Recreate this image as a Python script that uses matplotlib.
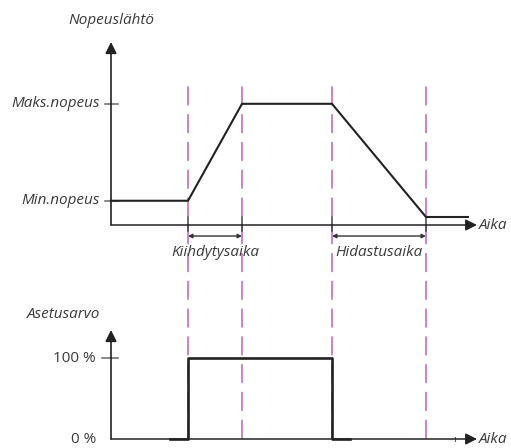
import matplotlib
matplotlib.use("Agg")
import matplotlib.pyplot as plt
from matplotlib.patches import ConnectionPatch

plt.rcParams['font.family'] = ['Open Sans', 'DejaVu Sans']

# event times (arbitrary time units)
t_events = [7.7, 13.1, 22.1, 31.5]
t_end = 36.6

# upper chart: speed output
speed_t = [0, 7.7, 13.1, 22.1, 31.5, 35.7]
speed_v = [20, 20, 100, 100, 6.6, 6.6]
speed_ticks = [20, 100]
speed_labels = ['Min.nopeus', 'Maks.nopeus']

# lower chart: setpoint
set_t = [5.9, 7.7, 7.7, 22.1, 22.1, 23.9]
set_v = [0, 0, 100, 100, 0, 0]
set_ticks = [0, 100]
set_labels = ['0 %', '100 %']

txt = '#3a3a3a'
dash_col = '#b355ad'
fs = 11

fig = plt.figure(figsize=(5.11, 4.48), dpi=100)
W, H = 511, 448
ax1 = fig.add_axes([111 / W, (H - 225) / H, 366 / W, 183 / H])
ax2 = fig.add_axes([111 / W, (H - 439) / H, 366 / W, 109 / H])
ax1.set_xlim(0, t_end)
ax1.set_ylim(0, 151)
ax2.set_xlim(0, t_end)
ax2.set_ylim(0, 135)

for ax, top in ((ax1, 151), (ax2, 135)):
    ax.axis('off')
    ax.annotate('', xy=(0, top), xytext=(0, 0),
                arrowprops=dict(arrowstyle='-|>', color='#222222', lw=1.2,
                                mutation_scale=17, shrinkA=0, shrinkB=0),
                annotation_clip=False)
    ax.annotate('', xy=(t_end, 0), xytext=(0, 0),
                arrowprops=dict(arrowstyle='-|>', color='#222222', lw=1.1,
                                mutation_scale=17, shrinkA=0, shrinkB=0),
                annotation_clip=False)
    ax.text(t_end + 0.2, 0, 'Aika', style='italic', fontsize=fs,
            color=txt, ha='left', va='center')

# y ticks
for v, lab in zip(speed_ticks, speed_labels):
    ax1.plot([-0.6, 0.7], [v, v], color='#666666', lw=1.1, clip_on=False)
    ax1.text(-1.1, v, lab, style='italic', fontsize=fs, color=txt,
             ha='right', va='center')
for v, lab in zip(set_ticks, set_labels):
    if v > 0:
        ax2.plot([-0.9, 0.7], [v, v], color='#666666', lw=1.1, clip_on=False)
    ax2.text(-1.5, v, lab, fontsize=fs, color=txt, ha='right', va='center')

ax1.text(0, 169, 'Nopeuslähtö', style='italic', fontsize=fs, color=txt,
         ha='center', va='center', clip_on=False)
ax2.text(-1.1, 154, 'Asetusarvo', style='italic', fontsize=fs, color=txt,
         ha='right', va='center', clip_on=False)

# dashed event lines across both charts, drawn beneath the axes content
for t in t_events:
    cp = ConnectionPatch(xyA=(t, 114), coordsA=ax1.transData,
                         xyB=(t, 0), coordsB=ax2.transData,
                         color=dash_col, lw=1.0, linestyle=(0, (13, 7)),
                         zorder=-1)
    fig.add_artist(cp)
    ax1.plot([t, t], [6.6, -5], color='#444444', lw=1.1, clip_on=False)

ax1.plot(speed_t, speed_v, color='#222222', lw=1.5, zorder=3, clip_on=False)
ax2.plot(set_t, set_v, color='#222222', lw=1.9, zorder=3, clip_on=False)
ax2.plot([34.4, 34.4], [-2, 2], color='#666666', lw=0.8, clip_on=False)

# time brackets
for (a, b), lab in zip([(t_events[0], t_events[1]), (t_events[2], t_events[3])],
                       ['Kiihdytysaika', 'Hidastusaika']):
    ax1.annotate('', xy=(b, -9.1), xytext=(a, -9.1),
                 arrowprops=dict(arrowstyle='<|-|>', color='#333333', lw=1.0,
                                 mutation_scale=6, shrinkA=0, shrinkB=0),
                 annotation_clip=False)
    ax1.text((a + b) / 2, -23, lab, style='italic', fontsize=fs, color=txt,
             ha='center', va='center', clip_on=False)

fig.savefig('out.png', dpi=100)
